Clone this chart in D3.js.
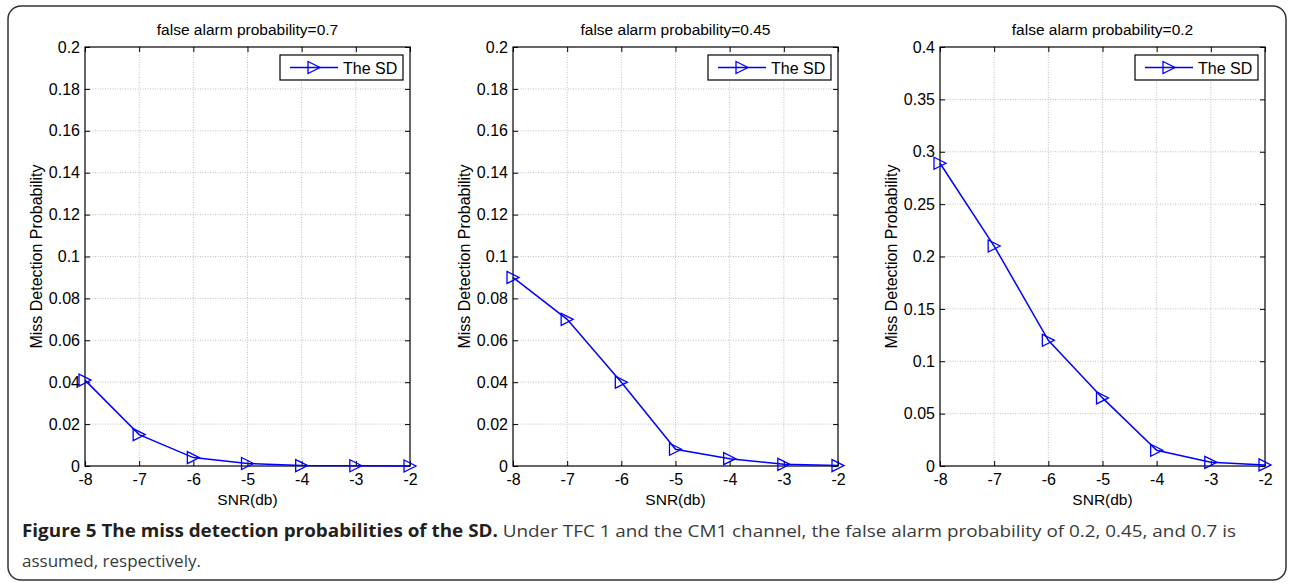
<!DOCTYPE html>
<html>
<head>
<meta charset="utf-8">
<script src="https://cdn.jsdelivr.net/npm/d3@7"></script>
<style>
  body { margin: 0; background: #fff; }
  svg { display: block; }
</style>
</head>
<body>
<div id="chart"></div>
<script>
// data
var snr = [-8, -7, -6, -5, -4, -3, -2];
var xTicks = [-8, -7, -6, -5, -4, -3, -2];

var missPfa07 = [0.041, 0.015, 0.004, 0.0012, 0.0002, 0.0001, 0.0];
var missPfa045 = [0.09, 0.07, 0.04, 0.008, 0.0035, 0.0008, 0.0002];
var missPfa02 = [0.289, 0.21, 0.12, 0.065, 0.015, 0.0035, 0.001];

var yTicksSmall = [0, 0.02, 0.04, 0.06, 0.08, 0.1, 0.12, 0.14, 0.16, 0.18, 0.2];
var yTicksLarge = [0, 0.05, 0.1, 0.15, 0.2, 0.25, 0.3, 0.35, 0.4];

var titles = ['false alarm probability=0.7', 'false alarm probability=0.45', 'false alarm probability=0.2'];
var legendLabel = 'The SD';

var svgWidth = 1290;
var svgHeight = 583;

var svg = d3.select('#chart')
            .append('svg')
            .attr('width', svgWidth)
            .attr('height', svgHeight);

// outer frame
svg.append('rect')
    .attr('x', 8).attr('y', 6)
    .attr('width', 1278).attr('height', 574)
    .attr('rx', 13).attr('ry', 13)
    .attr('fill', 'none')
    .attr('stroke', '#333')
    .attr('stroke-width', 1.5);

var panels = [
    { left: 85, values: missPfa07, yMax: 0.2, ticks: yTicksSmall, title: titles[0] },
    { left: 513, values: missPfa045, yMax: 0.2, ticks: yTicksSmall, title: titles[1] },
    { left: 940, values: missPfa02, yMax: 0.4, ticks: yTicksLarge, title: titles[2] }
];

var plotW = 325;
var plotTop = 47;
var plotBottom = 466;
var font = '"Liberation Sans", Arial, sans-serif';

// triangle marker pointing right, centred on the point
function triangle(x, y) {
    return 'M' + (x - 6) + ',' + (y - 6) + 'L' + (x + 6) + ',' + y + 'L' + (x - 6) + ',' + (y + 6) + 'Z';
}

panels.forEach(function(p) {
    var g = svg.append('g');

    var xScale = d3.scaleLinear()
        .domain([-8, -2])
        .range([p.left, p.left + plotW]);

    var yScale = d3.scaleLinear()
        .domain([0, p.yMax])
        .range([plotBottom, plotTop]);

    // grid
    g.append('g')
        .selectAll('line')
        .data(xTicks.slice(1, -1))
        .enter().append('line')
        .attr('x1', d => xScale(d)).attr('x2', d => xScale(d))
        .attr('y1', plotTop).attr('y2', plotBottom)
        .attr('stroke', '#b0b0b0')
        .attr('stroke-width', 0.8)
        .attr('stroke-dasharray', '1,1.5');

    g.append('g')
        .selectAll('line')
        .data(p.ticks.slice(1, -1))
        .enter().append('line')
        .attr('x1', p.left).attr('x2', p.left + plotW)
        .attr('y1', d => yScale(d)).attr('y2', d => yScale(d))
        .attr('stroke', '#b0b0b0')
        .attr('stroke-width', 0.8)
        .attr('stroke-dasharray', '1,1.5');

    // axes, ticks pointing inward like matlab
    var axisStyle = function(sel) {
        sel.select('.domain').remove();
        sel.selectAll('.tick line').attr('stroke', '#000');
        sel.selectAll('.tick text')
            .attr('font-family', font)
            .attr('font-size', 16)
            .attr('fill', '#000');
    };

    g.append('g')
        .attr('transform', 'translate(0,' + plotBottom + ')')
        .call(d3.axisBottom(xScale).tickValues(xTicks).tickSize(-5).tickPadding(8).tickFormat(d => String(d)))
        .call(axisStyle);

    g.append('g')
        .attr('transform', 'translate(0,' + plotTop + ')')
        .call(d3.axisTop(xScale).tickValues(xTicks).tickSize(-5).tickFormat(''))
        .call(axisStyle);

    g.append('g')
        .attr('transform', 'translate(' + p.left + ',0)')
        .call(d3.axisLeft(yScale).tickValues(p.ticks).tickSize(-5).tickPadding(5).tickFormat(d => String(d)))
        .call(axisStyle);

    g.append('g')
        .attr('transform', 'translate(' + (p.left + plotW) + ',0)')
        .call(d3.axisRight(yScale).tickValues(p.ticks).tickSize(-5).tickFormat(''))
        .call(axisStyle);

    g.append('rect')
        .attr('x', p.left).attr('y', plotTop)
        .attr('width', plotW).attr('height', plotBottom - plotTop)
        .attr('fill', 'none')
        .attr('stroke', '#000')
        .attr('stroke-width', 1.2);

    // line + markers
    var pts = snr.map((s, i) => [s, p.values[i]]);

    var line = d3.line()
        .x(d => xScale(d[0]))
        .y(d => yScale(d[1]));

    g.append('path')
        .datum(pts)
        .attr('d', line)
        .attr('fill', 'none')
        .attr('stroke', '#0000ff')
        .attr('stroke-width', 1.5);

    g.append('g')
        .selectAll('path')
        .data(pts)
        .enter().append('path')
        .attr('d', d => triangle(xScale(d[0]), yScale(d[1])))
        .attr('fill', 'none')
        .attr('stroke', '#0000ff')
        .attr('stroke-width', 1.3);

    // title and axis labels
    g.append('text')
        .attr('x', p.left + plotW / 2)
        .attr('y', 35)
        .attr('text-anchor', 'middle')
        .attr('font-family', font)
        .attr('font-size', 15.5)
        .text(p.title);

    g.append('text')
        .attr('x', p.left + plotW / 2)
        .attr('y', 505)
        .attr('text-anchor', 'middle')
        .attr('font-family', font)
        .attr('font-size', 15.5)
        .text('SNR(db)');

    g.append('text')
        .attr('transform', 'rotate(-90)')
        .attr('x', -(plotTop + plotBottom) / 2)
        .attr('y', p.left - 43)
        .attr('text-anchor', 'middle')
        .attr('font-family', font)
        .attr('font-size', 16)
        .text('Miss Detection Probability');

    // legend
    var lx = p.left + plotW - 130;
    var ly = 55;
    g.append('rect')
        .attr('x', lx).attr('y', ly)
        .attr('width', 123).attr('height', 25)
        .attr('fill', '#fff')
        .attr('stroke', '#000')
        .attr('stroke-width', 1.2);
    g.append('line')
        .attr('x1', lx + 10).attr('x2', lx + 58)
        .attr('y1', ly + 12.5).attr('y2', ly + 12.5)
        .attr('stroke', '#0000ff')
        .attr('stroke-width', 1.5);
    g.append('path')
        .attr('d', triangle(lx + 34, ly + 12.5))
        .attr('fill', 'none')
        .attr('stroke', '#0000ff')
        .attr('stroke-width', 1.3);
    g.append('text')
        .attr('x', lx + 63)
        .attr('y', ly + 18.5)
        .attr('font-family', font)
        .attr('font-size', 16)
        .text(legendLabel);
});

// caption
var caption = svg.append('text')
    .attr('x', 22)
    .attr('y', 537)
    .attr('font-family', '"Open Sans", sans-serif')
    .attr('font-size', 17)
    .attr('textLength', 1214)
    .attr('lengthAdjust', 'spacingAndGlyphs');
caption.append('tspan')
    .attr('font-weight', 'bold')
    .attr('fill', '#231f20')
    .text('Figure 5 The miss detection probabilities of the SD.');
caption.append('tspan')
    .attr('fill', '#3a3a3a')
    .text(' Under TFC 1 and the CM1 channel, the false alarm probability of 0.2, 0.45, and 0.7 is');

svg.append('text')
    .attr('x', 22)
    .attr('y', 567)
    .attr('font-family', '"Open Sans", sans-serif')
    .attr('font-size', 17)
    .attr('fill', '#3a3a3a')
    .text('assumed, respectively.');
</script>
</body>
</html>
